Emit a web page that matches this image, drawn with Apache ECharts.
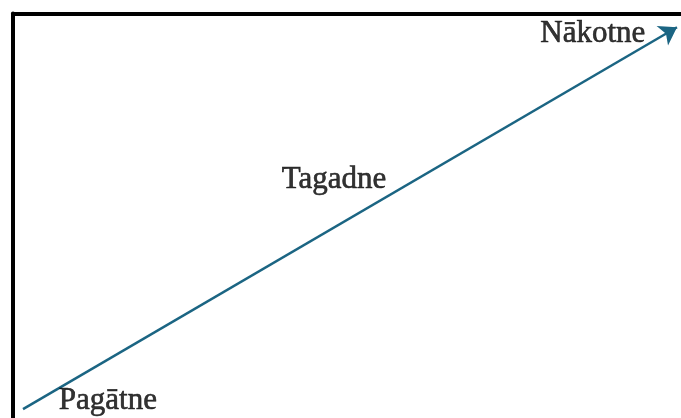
<!DOCTYPE html>
<html>
<head>
<meta charset="utf-8">
<script src="https://cdn.jsdelivr.net/npm/echarts@6/dist/echarts.min.js"></script>
<style>html,body{margin:0;padding:0;background:#fff;}#c{width:681px;height:418px;}</style>
</head>
<body>
<div id="c"></div>
<script>
// Timeline arrow (data space 0..100)
const arrowStart = [1.5, 2.2];
const arrowEnd = [99.4, 96.6];
// Labels placed along the timeline
const labelNames = ['Pagātne', 'Tagadne', 'Nākotne'];
const labelX = [14.2, 48.05, 86.8];
const labelY = [4.3, 58.8, 95.0];

const chart = echarts.init(document.getElementById('c'), null, {renderer: 'canvas'});
const axisCommon = {
  type: 'value', min: 0, max: 100,
  axisTick: {show: false}, axisLabel: {show: false}, splitLine: {show: false}
};
chart.setOption({
  animation: false,
  backgroundColor: '#fff',
  grid: {left: 13, right: 0, top: 13.5, bottom: 0},
  xAxis: Object.assign({}, axisCommon, {
    position: 'top',
    axisLine: {show: true, onZero: false, lineStyle: {color: '#000', width: 4}}
  }),
  yAxis: Object.assign({}, axisCommon, {
    position: 'left',
    axisLine: {show: true, onZero: false, lineStyle: {color: '#000', width: 4}}
  }),
  series: [
    {
      type: 'lines',
      coordinateSystem: 'cartesian2d',
      symbol: ['none', 'arrow'],
      symbolSize: 17,
      lineStyle: {color: '#1b6583', width: 2.5, opacity: 1},
      data: [{coords: [arrowStart, arrowEnd]}],
      z: 3
    },
    {
      type: 'scatter',
      symbolSize: 0,
      data: labelNames.map((n, i) => ({name: n, value: [labelX[i], labelY[i]]})),
      label: {
        show: true, position: 'inside', formatter: '{b}',
        color: '#000000', fontSize: 31,
        textBorderColor: '#000000', textBorderWidth: 0.6,
        fontFamily: '"Liberation Serif", "Times New Roman", serif'
      },
      z: 4
    }
  ]
});
</script>
</body>
</html>
